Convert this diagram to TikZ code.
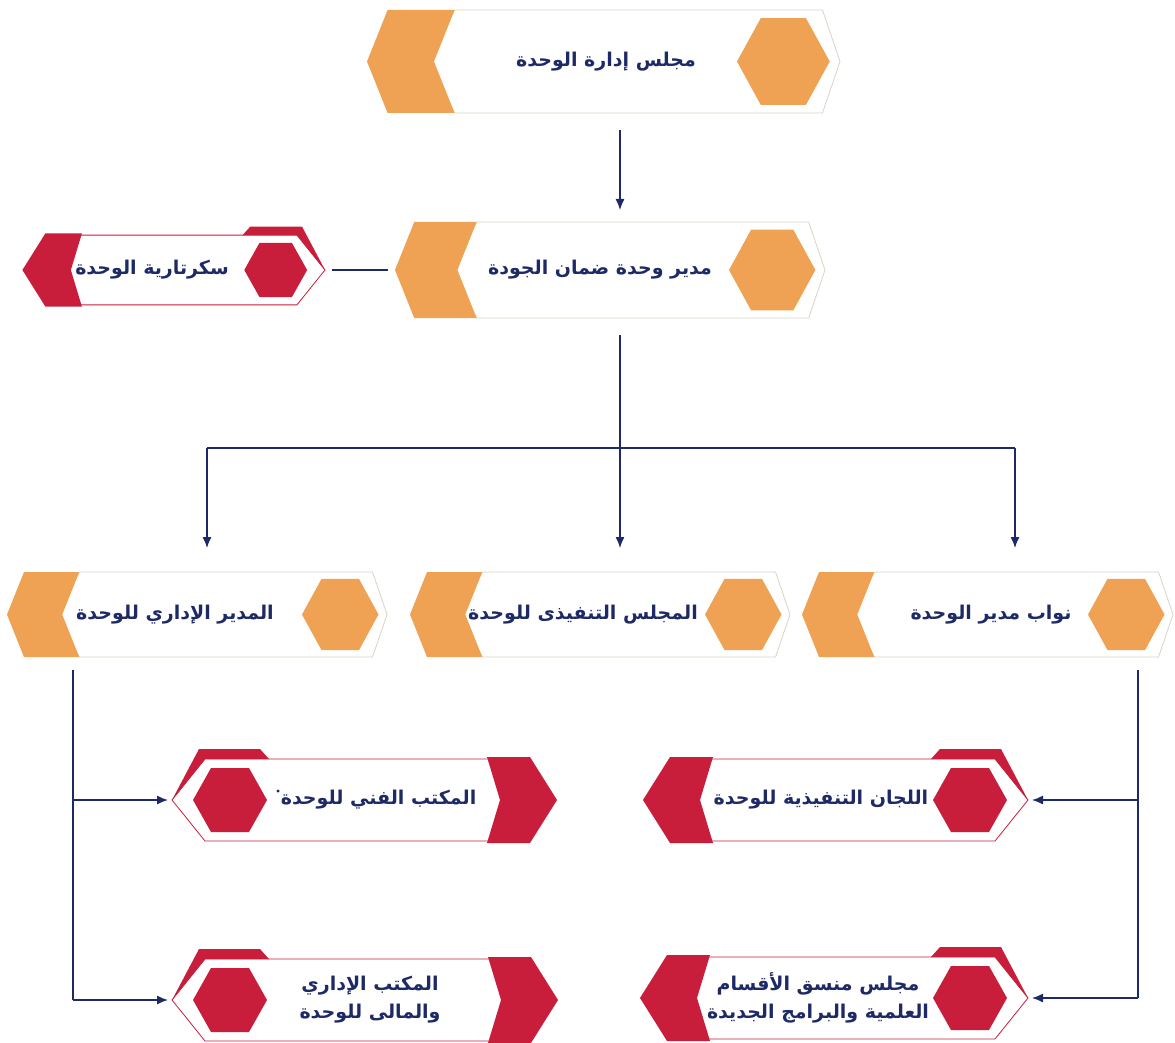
\documentclass[tikz,border=0pt]{standalone}
\usepackage{fontspec}
\newfontfamily\arabicfont[Script=Arabic]{DejaVu Sans}
\TeXXeTstate=1
\usetikzlibrary{arrows.meta, calc}

\definecolor{boxorange}{HTML}{F0A254}
\definecolor{boxred}{HTML}{C81E3C}
\definecolor{navy}{HTML}{1E2A66}
\definecolor{bodyline}{HTML}{D8D4C4}

\tikzset{
  frame/.style={rectangle, inner sep=0pt, outer sep=0pt},
  boxtext/.style={font=\arabicfont\bfseries\fontsize{19}{28}\selectfont, text=navy, align=center, inner sep=0pt},
  link/.style={navy, line width=1.3pt},
  arrow/.style={link, -{Latex[length=11pt,width=9pt]}}
}

% name, left, top, right, bottom, text x, text
\newcommand{\orangebox}[7]{%
  \pgfmathsetmacro\boxh{#5-#3}%
  \pgfmathsetmacro\boxy{(#3+#5)/2}%
  \node[frame, minimum width={#4-#2}, minimum height=\boxh] (#1) at ({(#2+#4)/2},\boxy) {};
  \filldraw[bodyline, fill=white, line width=0.8pt] (#2+0.85*\boxh,#3) -- (#4-0.17*\boxh,#3) -- (#4,\boxy)
    -- (#4-0.17*\boxh,#5) -- (#2+0.85*\boxh,#5) -- (#2+0.6*\boxh,\boxy) -- cycle;
  \fill[boxorange] (#2+0.2*\boxh,#3) -- (#2+0.85*\boxh,#3) -- (#2+0.65*\boxh,\boxy)
    -- (#2+0.85*\boxh,#5) -- (#2+0.2*\boxh,#5) -- (#2,\boxy) -- cycle;
  \fill[boxorange] (#4-\boxh,\boxy) -- ++(0.23*\boxh,-0.42*\boxh) -- ++(0.44*\boxh,0)
    -- ++(0.23*\boxh,0.42*\boxh) -- ++(-0.23*\boxh,0.42*\boxh) -- ++(-0.44*\boxh,0) -- cycle;
  \node[boxtext] (#1-t) at (#6,\boxy) {#7};
}

% name, tip x, centre y, direction, length, scale, text x, text
\newcommand{\redbox}[8]{%
  \node[frame, minimum width={#5*#6}, minimum height={84*#6}] (#1) at ({#2+(#4)*#5*#6/2},#3) {};
  \begin{scope}[shift={(#2,#3)}, xscale=#4, scale=#6]
    \filldraw[boxred, fill=white, line width=0.8pt] (0,0) -- (33,-41) -- (#5-55,-41) -- (#5-55,41) -- (33,41) -- cycle;
    \fill[boxred] (0,0) -- (27,-51) -- (88,-51) -- (97,-41) -- (33,-41) -- cycle;
    \fill[boxred] (#5-70,-43) -- (#5-27,-43) -- (#5,0) -- (#5-27,43) -- (#5-70,43) -- (#5-57,0) -- cycle;
    \fill[boxred] (21,0) -- (39,-32) -- (77,-32) -- (95,0) -- (77,32) -- (39,32) -- cycle;
  \end{scope}
  \node[boxtext] (#1-t) at (#7,#3) {#8};
}

\begin{document}
\begin{tikzpicture}[x=1pt, y=-1pt]
  \useasboundingbox (0,0) rectangle (1175,1043);
  \fill[white] (0,0) rectangle (1175,1043);

  \orangebox{board}{367}{10}{840}{113}{606}{\beginR مجلس إدارة الوحدة\endR}
  \orangebox{manager}{395}{222}{825}{318}{600}{\beginR مدير وحدة ضمان الجودة\endR}
  \orangebox{admin}{7}{572}{387}{657}{175}{\beginR المدير الإداري للوحدة\endR}
  \orangebox{exec}{410}{572}{790}{657}{583}{\beginR المجلس التنفيذى للوحدة\endR}
  \orangebox{deputy}{802}{572}{1173}{657}{991}{\beginR نواب مدير الوحدة\endR}

  \redbox{secretary}{325}{270}{-1}{356}{0.85}{152}{\beginR سكرتارية الوحدة\endR}
  \redbox{technical}{172}{800}{1}{385}{1}{376}{{\fontsize{8}{8}\selectfont\raisebox{10pt}{•}}\beginR المكتب الفني للوحدة\endR}
  \redbox{finance}{172}{1000}{1}{386}{1}{370}{\beginR المكتب الإداري\endR\\\beginR والمالى للوحدة\endR}
  \redbox{committees}{1028}{800}{-1}{385}{1}{821}{\beginR اللجان التنفيذية للوحدة\endR}
  \redbox{coordination}{1028}{998}{-1}{388}{1}{818}{\beginR مجلس منسق الأقسام\endR\\\beginR العلمية والبرامج الجديدة\endR}

  \coordinate (trunk) at (620,0);
  \coordinate (busL) at (207,448);
  \coordinate (busR) at (1015,448);
  \coordinate (spineL) at (73,0);
  \coordinate (spineR) at (1138,0);

  \draw[arrow, shorten <=17pt, shorten >=12pt] (board.south -| trunk) -- (manager.north -| trunk);
  \draw[link, shorten <=7pt, shorten >=7pt] (manager.west) -- (secretary.east);
  \draw[arrow, shorten <=17pt, shorten >=24pt] (manager.south -| trunk) -- (exec.north -| trunk);
  \draw[link] (busL) -- (busR);
  \foreach \b/\n in {busL/admin, busR/deputy}
    \draw[arrow, shorten >=24pt] (\b) -- (\b |- \n.north);

  \draw[link, shorten <=13pt] (admin.south -| spineL) -- (finance.west -| spineL);
  \draw[link, shorten <=13pt] (deputy.south -| spineR) -- (coordination.east -| spineR);
  \foreach \n in {technical, finance}
    \draw[arrow, shorten >=4pt] (\n.west -| spineL) -- (\n.west);
  \foreach \n in {committees, coordination}
    \draw[arrow, shorten >=4pt] (\n.east -| spineR) -- (\n.east);
\end{tikzpicture}
\end{document}
